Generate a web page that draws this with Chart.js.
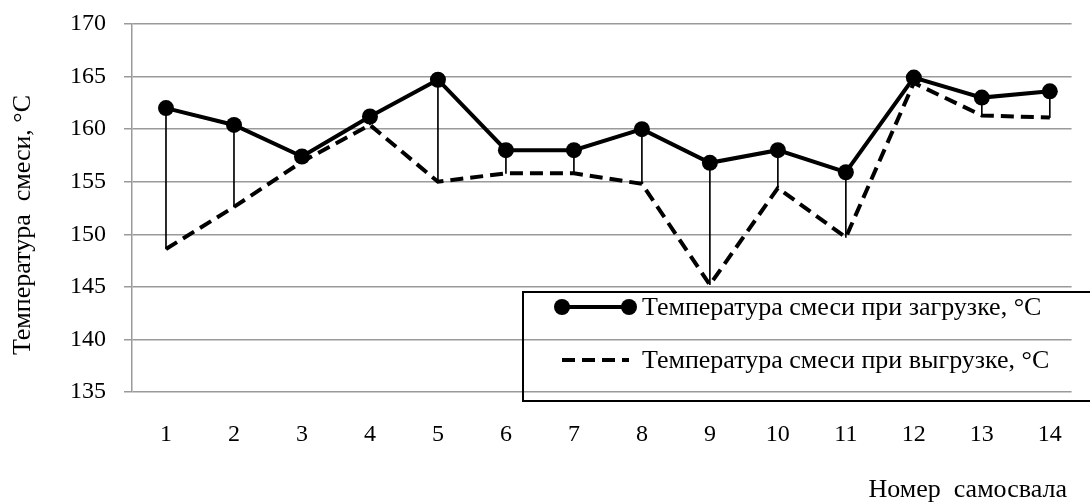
<!DOCTYPE html>
<html>
<head>
<meta charset="utf-8">
<script src="https://cdn.jsdelivr.net/npm/chart.js@4"></script>
<style>
html, body { margin: 0; padding: 0; background: #fff; overflow: hidden; }
#wrap { width: 1090px; height: 503px; }
</style>
</head>
<body>
<div id="wrap"><canvas id="tempChart"></canvas></div>
<script>
var trucks = [1, 2, 3, 4, 5, 6, 7, 8, 9, 10, 11, 12, 13, 14];
var loadTemp = [162.0, 160.4, 157.4, 161.2, 164.7, 158.0, 158.0, 160.0, 156.8, 158.0, 155.9, 164.9, 163.0, 163.6];
var unloadTemp = [148.6, 152.6, 156.9, 160.4, 155.0, 155.8, 155.8, 154.8, 145.2, 154.4, 149.7, 164.4, 161.3, 161.1];
var yTicks = [135, 140, 145, 150, 155, 160, 165, 170];

var loadLabel = "Температура смеси при загрузке, °С";
var unloadLabel = "Температура смеси при выгрузке, °С";
var xTitle = "Номер  самосвала";
var yTitle = "Температура  смеси, °С";

var serif = "'Liberation Serif', 'Times New Roman', serif";

// points for the two lines, pairs for the drop lines between them
function toPoints(values) {
    return trucks.map(function (t, i) { return { x: t, y: values[i] }; });
}
var dropLines = trucks.map(function (t, i) {
    return { x: t, y: [unloadTemp[i], loadTemp[i]] };
});

// legend in a framed box + axis titles
var boxAndTitles = {
    id: "boxAndTitles",
    afterDraw: function (chart) {
        var c = chart.ctx;
        var a = chart.chartArea;
        var left = a.left + 391, top = a.top + 268;
        c.save();
        c.strokeStyle = "#000";
        c.lineWidth = 2;
        c.strokeRect(left, top, 620, 109);

        var rows = [chart.data.datasets[0], chart.data.datasets[1]];
        rows.forEach(function (ds, i) {
            var y = top + 15 + i * 53;
            c.beginPath();
            c.lineWidth = ds.borderWidth;
            c.setLineDash(ds.borderDash || []);
            c.moveTo(left + 39, y);
            c.lineTo(left + 106, y);
            c.stroke();
            c.setLineDash([]);
            if (ds.pointRadius > 0) {
                c.fillStyle = "#000";
                [left + 39, left + 106].forEach(function (px) {
                    c.beginPath();
                    c.arc(px, y, ds.pointRadius, 0, Math.PI * 2);
                    c.fill();
                });
            }
            c.fillStyle = "#000";
            c.font = "26px " + serif;
            c.textAlign = "left";
            c.textBaseline = "middle";
            c.fillText(ds.label, left + 119, y + 1);
        });

        // x title, bottom right
        c.font = "26px " + serif;
        c.textAlign = "right";
        c.textBaseline = "middle";
        c.fillText(xTitle, 1067, 490);

        // y title, rotated
        c.translate(23, 225);
        c.rotate(-Math.PI / 2);
        c.textAlign = "center";
        c.fillText(yTitle, 0, 0);
        c.restore();
    }
};

var tempChart = new Chart(document.getElementById("tempChart").getContext("2d"), {
    type: "line",
    data: {
        datasets: [
            {
                label: loadLabel,
                data: toPoints(loadTemp),
                borderColor: "#000",
                backgroundColor: "#000",
                borderWidth: 4,
                pointRadius: 8,
                pointBorderWidth: 0,
                pointBackgroundColor: "#000",
                tension: 0,
                order: 1,
            },
            {
                label: unloadLabel,
                data: toPoints(unloadTemp),
                borderColor: "#000",
                borderWidth: 4,
                borderDash: [13, 7],
                pointRadius: 0,
                tension: 0,
                order: 2,
            },
            {
                // drop lines
                type: "bar",
                label: "",
                data: dropLines,
                backgroundColor: "#000",
                barThickness: 1,
                order: 3,
            },
        ],
    },
    options: {
        responsive: true,
        maintainAspectRatio: false,
        animation: false,
        layout: { padding: { top: 24, left: 0, right: 0, bottom: 0 } },
        plugins: {
            legend: { display: false },
            tooltip: { enabled: false },
        },
        scales: {
            x: {
                type: "linear",
                min: 0.5,
                max: 14.32,
                offset: false,
                afterBuildTicks: function (axis) {
                    axis.ticks = trucks.map(function (t) { return { value: t }; });
                },
                afterFit: function (axis) { axis.height = 111; },
                grid: { display: false, drawTicks: false },
                border: { display: false },
                ticks: {
                    font: { family: serif, size: 24 },
                    color: "#000",
                    padding: 28,
                    maxRotation: 0,
                    autoSkip: false,
                },
            },
            y: {
                min: 135,
                max: 170,
                afterBuildTicks: function (axis) {
                    axis.ticks = yTicks.map(function (v) { return { value: v }; });
                },
                afterFit: function (axis) { axis.width = 132; },
                grid: { color: "#9a9a9a", lineWidth: 1.5, tickLength: 8 },
                border: { color: "#9a9a9a", width: 1.5 },
                ticks: {
                    // small lineHeight so the label padding does not push the plot down
                    font: { family: serif, size: 24, lineHeight: 0.4 },
                    color: "#000",
                    padding: 18,
                },
            },
        },
    },
    plugins: [boxAndTitles],
});
</script>
</body>
</html>
